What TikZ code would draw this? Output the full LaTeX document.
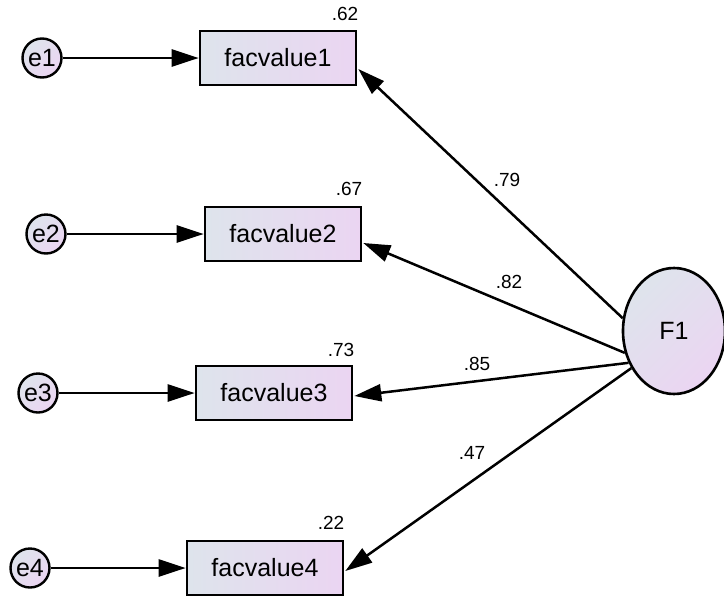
\documentclass[tikz,border=0pt]{standalone}
\usepackage{fontspec}
\setmainfont{Liberation Sans}
\usetikzlibrary{arrows.meta,calc,shapes.geometric}
\definecolor{cA}{HTML}{DEE4EC}
\definecolor{cB}{HTML}{EBD5F2}
\tikzset{
  obs/.style={draw=black, line width=2.6pt, minimum width=156pt, minimum height=54pt,
    left color=cA, right color=cB, font=\fontsize{25}{27}\selectfont, inner sep=0pt},
  err/.style={circle, draw=black, line width=2.4pt, minimum size=39pt, inner sep=0pt,
    top color=cA, bottom color=cB, shading angle=45, font=\fontsize{25}{27}\selectfont},
  lat/.style={ellipse, draw=black, line width=2.6pt, minimum width=102pt, minimum height=126pt,
    inner sep=0pt, top color=cA, bottom color=cB, shading angle=45, font=\fontsize{25}{27}\selectfont},
  num/.style={font=\fontsize{19}{21}\selectfont, inner sep=0pt},
  path/.style={line width=2.5pt, -{Triangle[length=27pt,width=17pt]}}
}
\begin{document}
\begin{tikzpicture}[x=1pt,y=-1pt]
\useasboundingbox (0,0) rectangle (724,598);
% observed
\node[obs] (fv1) at (278,58) {facvalue1};
\node[obs] (fv2) at (283,234) {facvalue2};
\node[obs] (fv3) at (274,393) {facvalue3};
\node[obs] (fv4) at (265,568) {facvalue4};
% errors
\node[err] (e1) at (42,58) {e1};
\node[err] (e2) at (46,234) {e2};
\node[err] (e3) at (38,393) {e3};
\node[err] (e4) at (30,568) {e4};
% latent
\node[lat] (F1) at (674,331) {F1};
% r-squared
\node[num] (r1) at (345,14) {.62};
\node[num] (r2) at (349,189) {.67};
\node[num] (r3) at (341,350) {.73};
\node[num] (r4) at (331,523) {.22};
% loadings
\node[num] (l1) at (507,180) {.79};
\node[num] (l2) at (509,282) {.82};
\node[num] (l3) at (477,364) {.85};
\node[num] (l4) at (472,453) {.47};
% connectors
\draw[path] (e1) -- (fv1);
\draw[path] (e2) -- (fv2);
\draw[path] (e3) -- (fv3);
\draw[path] (e4) -- (fv4);
\draw[path] (F1.166) -- ($(fv1.east)+(1,11)$);
\draw[path] (F1.204) -- ($(fv2.east)+(1,9)$);
\draw[path] (F1.215) -- ($(fv3.east)+(1,3)$);
\draw[path] (F1.221) -- ($(fv4.east)+(1,3)$);
\end{tikzpicture}
\end{document}
